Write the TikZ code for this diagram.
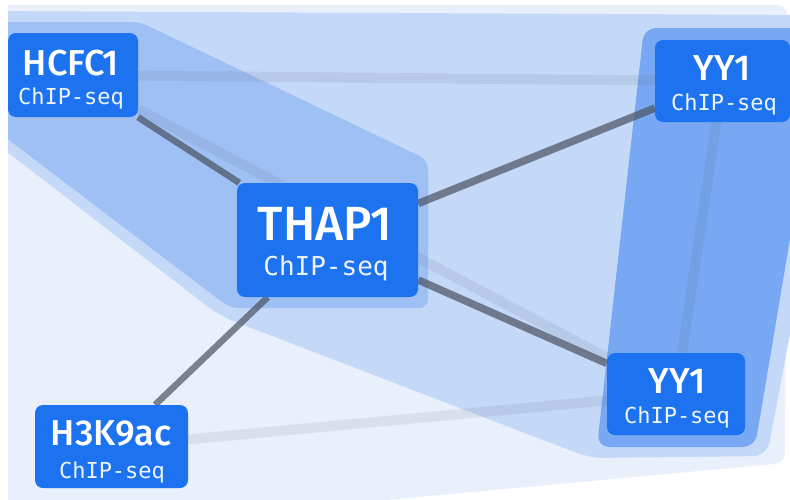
\documentclass[tikz,border=0pt]{standalone}
\usepackage{fontspec}
\newfontfamily\namefont{Fira Sans Medium}
\newfontfamily\seqfont{DejaVu Sans Mono}
\definecolor{lav}{HTML}{EAF0FB}
\definecolor{midhull}{HTML}{C4D8F8}
\definecolor{darkhull}{HTML}{9FC0F5}
\definecolor{yyhull}{HTML}{78A8F3}
\definecolor{nodeblue}{HTML}{1D72F0}
\definecolor{edgegray}{HTML}{4A5260}
\pgfdeclarelayer{hulls}
\pgfdeclarelayer{edges}
\pgfsetlayers{hulls,edges,main}
\tikzset{
  nodebox/.style={draw=none, fill=nodeblue, rounded corners=8pt, inner sep=0pt},
  bignamelbl/.style={anchor=base, text=white, font=\namefont\fontsize{48}{48}\selectfont, inner sep=0pt},
  namelbl/.style={anchor=base, text=white, font=\namefont\fontsize{36}{36}\selectfont, inner sep=0pt},
  bigseqlbl/.style={anchor=base, text=white!92!nodeblue, font=\seqfont\fontsize{26}{26}\selectfont, inner sep=0pt},
  seqlbl/.style={anchor=base, text=white!92!nodeblue, font=\seqfont\fontsize{22}{22}\selectfont, inner sep=0pt},
  strongedge/.style={draw=edgegray, line width=7pt, draw opacity=0.7},
  faintedge/.style={draw=edgegray, line width=10pt, draw opacity=0.1},
}
\begin{document}
\begin{tikzpicture}[x=1pt,y=-1pt]
\useasboundingbox (0,0) rectangle (790,499);
% nodes
\node[nodebox, minimum width=130pt, minimum height=84pt] (hcfc1) at (73,75) {};
\node[nodebox, minimum width=135pt, minimum height=82pt] (yy1t) at (722.5,81) {};
\node[nodebox, minimum width=181pt, minimum height=114pt] (thap1) at (327.5,240) {};
\node[nodebox, minimum width=153pt, minimum height=83pt] (h3k) at (111.5,446.5) {};
\node[nodebox, minimum width=138pt, minimum height=82pt] (yy1b) at (676,394) {};
% labels
\node[namelbl] (hcfc1n) at (71,75) {HCFC1};
\node[seqlbl] (hcfc1s) at (71,104) {ChIP-seq};
\node[namelbl] (yy1tn) at (722,80) {YY1};
\node[seqlbl] (yy1ts) at (724,110) {ChIP-seq};
\node[bignamelbl] (thap1n) at (325,240) {THAP1};
\node[bigseqlbl] (thap1s) at (326,275) {ChIP-seq};
\node[namelbl] (h3kn) at (111,445) {H3K9ac};
\node[seqlbl] (h3ks) at (112,478) {ChIP-seq};
\node[namelbl] (yy1bn) at (677,393) {YY1};
\node[seqlbl] (yy1bs) at (677,423) {ChIP-seq};
% hulls
\begin{pgfonlayer}{hulls}
  \fill[white] (0,0) rectangle (790,499);
  \begin{scope}
    \clip (8,5) rectangle (790,499);
    \fill[lav, rounded corners=10pt] (-20,5) -- (787,5) -- (785,463) -- (300,508) -- (-20,508) -- cycle;
    \fill[midhull, rounded corners=14pt] (-20,11) -- (820,15) -- (820,175) -- (767,456) -- (590,458) -- (220,316) -- (-20,131) -- cycle;
    \fill[darkhull, rounded corners=9pt] (-20,22) -- (140,22) -- (428,160) -- (428,308) -- (230,308) -- (-20,118) -- cycle;
    \fill[yyhull, rounded corners=12pt] (644,28) -- (830,28) -- (815,90) -- (755,447) -- (597,447) -- cycle;
  \end{scope}
\end{pgfonlayer}
% edges
\begin{pgfonlayer}{edges}
  \draw[faintedge] (hcfc1) -- (yy1t);
  \draw[faintedge] (hcfc1) -- (yy1b);
  \draw[faintedge] (h3k) -- (yy1b);
  \draw[faintedge] (yy1t) -- (yy1b);
  \draw[strongedge, line width=6.5pt] (hcfc1) -- (thap1);
  \draw[strongedge, line width=7.5pt] (thap1) -- (yy1t);
  \draw[strongedge, line width=7.5pt] (thap1) -- (yy1b);
  \draw[strongedge, line width=6.5pt] (thap1) -- (h3k);
\end{pgfonlayer}
\end{tikzpicture}
\end{document}
